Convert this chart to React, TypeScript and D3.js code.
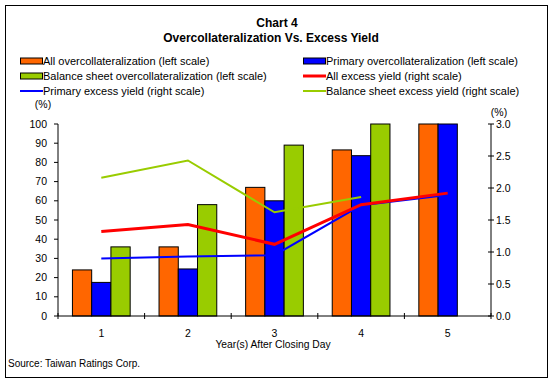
import * as d3 from "d3";

const W = 554;
const H = 384;
const M = { left: 58, right: 491, top: 124, bottom: 316 };

const years = ["1", "2", "3", "4", "5"];
const barSeries = [
  "All overcollateralization (left scale)",
  "Primary overcollateralization (left scale)",
  "Balance sheet overcollateralization (left scale)",
];
const barColors = ["#ff6600", "#0000ff", "#99cc00"];
const allOC = [24, 36, 67, 86.5, 100];
const primaryOC = [17.5, 24.5, 60, 83.5, 100];
const balanceOC = [36, 58, 89, 100, null];

const lineSeries = [
  "All excess yield (right scale)",
  "Primary excess yield (right scale)",
  "Balance sheet excess yield (right scale)",
];
const lineColors = ["#ff0000", "#0000ff", "#99cc00"];
const lineWidths = [3, 2, 2];
const allEY = [1.32, 1.43, 1.12, 1.74, 1.92];
const primaryEY = [0.9, 0.93, 0.95, 1.73, 1.89];
const balanceEY = [2.16, 2.43, 1.62, 1.86, null];

const leftTicks = [0, 10, 20, 30, 40, 50, 60, 70, 80, 90, 100];
const rightTicks = [0, 0.5, 1, 1.5, 2, 2.5, 3];

const FONT = "'Liberation Sans', Arial, sans-serif";

export default function App() {
  const x = d3.scaleBand<string>().domain(years).range([M.left, M.right]);
  const inner = d3
    .scaleBand<number>()
    .domain([0, 1, 2])
    .range([0, x.bandwidth()])
    .paddingInner(0)
    .paddingOuter(0.75);
  const yL = d3.scaleLinear().domain([0, 100]).range([M.bottom, M.top]);
  const yR = d3.scaleLinear().domain([0, 3]).range([M.bottom, M.top]);

  const bars = [allOC, primaryOC, balanceOC];
  // draw order: balance sheet, primary, all (red on top)
  const lines = [balanceEY, primaryEY, allEY];
  const lineIdx = [2, 1, 0];

  const lineGen = d3
    .line<number | null>()
    .defined((d) => d != null)
    .x((_, i) => x(years[i])! + x.bandwidth() / 2)
    .y((d) => yR(d as number));

  const boundaries = d3.range(years.length + 1).map((i) => M.left + i * x.step());

  const legend = [
    { label: barSeries[0], color: barColors[0], kind: "bar", col: 0, row: 0 },
    { label: barSeries[1], color: barColors[1], kind: "bar", col: 1, row: 0 },
    { label: barSeries[2], color: barColors[2], kind: "bar", col: 0, row: 1 },
    { label: lineSeries[0], color: lineColors[0], kind: "line", col: 1, row: 1 },
    { label: lineSeries[1], color: lineColors[1], kind: "line", col: 0, row: 2 },
    { label: lineSeries[2], color: lineColors[2], kind: "line", col: 1, row: 2 },
  ];
  const legX = [20, 303];

  return (
    <svg
      width={W}
      height={H}
      style={{ position: "absolute", left: 0, top: 0, background: "#fff" }}
      fontFamily={FONT}
    >
      <rect x={5.5} y={5.5} width={542} height={372} fill="#fff" stroke="#000" />

      <text x={277} y={27} textAnchor="middle" fontSize={12} fontWeight="bold">
        Chart 4
      </text>
      <text x={271} y={42} textAnchor="middle" fontSize={12} fontWeight="bold">
        Overcollateralization Vs. Excess Yield
      </text>

      {legend.map((d, i) => {
        const lx = legX[d.col];
        const ly = 61 + d.row * 15;
        return (
          <g key={i}>
            {d.kind === "bar" ? (
              <rect x={lx + 0.5} y={ly - 3} width={22} height={6} fill={d.color} stroke="#000" />
            ) : (
              <line x1={lx} x2={lx + 23} y1={ly} y2={ly} stroke={d.color} strokeWidth={d.color === "#ff0000" ? 3 : 2} />
            )}
            <text x={lx + 23} y={ly} dy="0.35em" fontSize={11}>
              {d.label}
            </text>
          </g>
        );
      })}

      {bars.map((vals, s) =>
        vals.map((v, i) =>
          v == null ? null : (
            <rect
              key={`${s}-${i}`}
              x={x(years[i])! + inner(s)!}
              y={yL(v)}
              width={inner.bandwidth()}
              height={yL(0) - yL(v)}
              fill={barColors[s]}
              stroke="#000"
              strokeWidth={1}
            />
          )
        )
      )}

      {lines.map((vals, k) => (
        <path
          key={k}
          d={lineGen(vals) ?? undefined}
          fill="none"
          stroke={lineColors[lineIdx[k]]}
          strokeWidth={lineWidths[lineIdx[k]]}
        />
      ))}

      <line x1={M.left} x2={M.left} y1={M.top} y2={M.bottom} stroke="#000" />
      <line x1={M.right} x2={M.right} y1={M.top} y2={M.bottom} stroke="#000" />
      <line x1={M.left} x2={M.right} y1={M.bottom} y2={M.bottom} stroke="#000" />

      {leftTicks.map((t) => (
        <g key={t}>
          <line x1={M.left - 4} x2={M.left} y1={yL(t)} y2={yL(t)} stroke="#000" />
          <text x={47} y={yL(t)} dy="0.35em" textAnchor="end" fontSize={10.5}>
            {t}
          </text>
        </g>
      ))}
      {rightTicks.map((t) => (
        <g key={t}>
          <line x1={M.right - 3} x2={M.right + 3} y1={yR(t)} y2={yR(t)} stroke="#000" />
          <text x={496} y={yR(t)} dy="0.35em" fontSize={10.5}>
            {d3.format(".1f")(t)}
          </text>
        </g>
      ))}
      {boundaries.map((b, i) => (
        <line key={i} x1={b} x2={b} y1={M.bottom - 3} y2={M.bottom + 3} stroke="#000" />
      ))}
      {years.map((yr) => (
        <text key={yr} x={x(yr)! + x.bandwidth() / 2} y={333} dy="0.35em" textAnchor="middle" fontSize={10.5}>
          {yr}
        </text>
      ))}

      <text x={43} y={104} dy="0.35em" textAnchor="middle" fontSize={10.5}>
        (%)
      </text>
      <text x={499} y={112} dy="0.35em" textAnchor="middle" fontSize={10.5}>
        (%)
      </text>

      <text x={273} y={344} dy="0.35em" textAnchor="middle" fontSize={10.3}>
        Year(s) After Closing Day
      </text>
      <text x={8} y={363} dy="0.35em" fontSize={10}>
        Source: Taiwan Ratings Corp.
      </text>
    </svg>
  );
}
